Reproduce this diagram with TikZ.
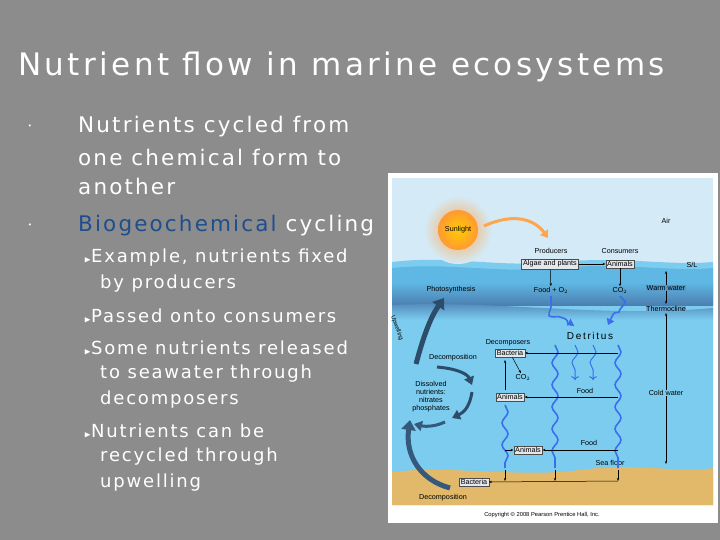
\documentclass[tikz,border=0pt]{standalone}
\usepackage{amssymb}
\usepackage{fontspec}
\setmainfont{DejaVu Sans}
\newfontfamily\lib{Liberation Sans}
\usetikzlibrary{arrows.meta,decorations.pathmorphing}
\definecolor{bg}{HTML}{8C8C8C}
\definecolor{sky}{HTML}{D4EAF6}
\definecolor{warm}{HTML}{5FB8E3}
\definecolor{thermo}{HTML}{4B7FB0}
\definecolor{cold}{HTML}{7CCCF0}
\definecolor{sand}{HTML}{E2B96A}
\definecolor{boxc}{HTML}{E4E8EC}
\definecolor{bio}{HTML}{1F4E8C}
\newcommand{\tri}{{\fontsize{9}{9}\selectfont$\blacktriangleright$}}
\tikzset{x=1pt,y=-1pt,
 txt/.style={text=white,font=\fontsize{21.5}{22}\selectfont\addfontfeatures{LetterSpace=10},anchor=west,inner sep=0},
 sub/.style={txt,font=\fontsize{18}{20}\selectfont\addfontfeatures{LetterSpace=10}},
 lab/.style={font=\lib\fontsize{7.2}{8}\selectfont,inner sep=0.5pt,align=center},
 bx/.style={lab,draw=black!70,fill=boxc,line width=0.4pt,inner sep=1.5pt},
 ln/.style={line width=0.5pt,-{Stealth[length=3pt]}},
 wv/.style={line width=1.6pt,color=warm!60!blue,decorate,decoration={snake,amplitude=3pt,segment length=22pt}}}
\begin{document}
\begin{tikzpicture}
\useasboundingbox (0,0) rectangle (720,540);
\fill[bg] (0,0) rectangle (720,540);
\node[text=white,font=\fontsize{31}{34}\selectfont\addfontfeatures{LetterSpace=11},anchor=west,inner sep=0] (title) at (18,67) {Nutrient flow in marine ecosystems};
\foreach \y/\n in {127/b1,226/b2}{\node[text=white,font=\fontsize{7}{8}\selectfont] (\n) at (30,\y) {•};}
\node[txt] (t1) at (78,127) {Nutrients cycled from};
\node[txt] (t2) at (78,157) {one chemical form to};
\node[txt] (t3) at (78,186) {another};
\node[txt] (t4) at (78,226) {\textcolor{bio}{Biogeochemical} cycling};
\node[sub] (s1) at (84,258) {\tri Example, nutrients fixed};
\node[sub] (s1b) at (100,284) {by producers};
\node[sub] (s2) at (84,316) {\tri Passed onto consumers};
\node[sub] (s3) at (84,348) {\tri Some nutrients released};
\node[sub] (s3b) at (100,374) {to seawater through};
\node[sub] (s3c) at (100,400) {decomposers};
\node[sub] (s4) at (84,431) {\tri Nutrients can be};
\node[sub] (s4b) at (100,457) {recycled through};
\node[sub] (s4c) at (100,483) {upwelling};
% picture
\fill[white] (388,173) rectangle (718,523);
\fill[sky] (392,178) rectangle (713,270);
\fill[cold] (392,262) .. controls (450,255) and (500,268) .. (560,262) .. controls (620,256) and (670,266) .. (713,262) -- (713,505) -- (392,505) -- cycle;
\fill[warm] (392,268) .. controls (450,262) and (500,274) .. (560,268) .. controls (620,262) and (670,272) .. (713,268) -- (713,305) -- (392,305) -- cycle;
\shade[top color=warm, bottom color=thermo] (392,282) rectangle (713,305);
\shade[top color=thermo, bottom color=cold] (392,305) .. controls (500,300) and (600,318) .. (713,308) -- (713,320) -- (392,320) -- cycle;
\fill[sand] (392,472) .. controls (450,465) and (520,478) .. (580,470) .. controls (640,462) and (680,474) .. (713,468) -- (713,505) -- (392,505) -- cycle;
\shade[inner color=orange!70, outer color=sky] (458,230) circle (34);
\shade[inner color=yellow!60!orange, outer color=orange!80] (458,230) circle (20);
\draw[line width=0.5pt,{Stealth[length=3pt]}-{Stealth[length=3pt]}] (666,271) -- (666,304);
\draw[line width=0.5pt,{Stealth[length=3pt]}-{Stealth[length=3pt]}] (666,313) -- (666,464);
\node[lab] (sun) at (458,230) {Sunlight};
\draw[orange!70,line width=3pt,-{Triangle[length=7pt,width=9pt]}] (484,226) .. controls (515,212) and (535,220) .. (548,238);
\node[lab] (air) at (666,221) {Air};
\node[lab] (sl) at (692,265) {S/L};
\node[lab] (prod) at (551,251) {Producers};
\node[lab] (cons) at (620,251) {Consumers};
\node[bx] (algae) at (550,264) {Algae and plants};
\node[bx] (anim1) at (620,264) {Animals};
\node[lab] (photo) at (451,290) {Photosynthesis};
\node[lab] (food1) at (551,290) {Food + O$_2$};
\node[lab] (co2a) at (620,290) {CO$_2$};
\node[lab,fill=thermo!55!warm] (warmw) at (666,288) {Warm water};
\node[lab,fill=thermo!40!cold] (therm) at (666,309) {Thermocline};
\node[lab,font=\lib\fontsize{10}{10}\selectfont] (det) at (590,336) {D\,e\,t\,r\,i\,t\,u\,s};
\node[lab] (decs) at (508,343) {Decomposers};
\node[bx] (bact1) at (510,353) {Bacteria};
\node[lab] (co2b) at (523,377) {CO$_2$};
\node[bx] (anim2) at (510,397) {Animals};
\node[lab] (food2) at (585,391) {Food};
\node[lab,fill=cold] (coldw) at (666,393) {Cold water};
\node[lab] (decomp1) at (453,358) {Decomposition};
\node[lab] (diss) at (431,397) {Dissolved\\nutrients:\\nitrates\\phosphates};
\node[bx] (anim3) at (528,450) {Animals};
\node[lab] (food3) at (589,443) {Food};
\node[lab] (seaf) at (610,463) {Sea floor};
\node[bx] (bact2) at (474,482) {Bacteria};
\node[lab] (decomp2) at (443,498) {Decomposition};
\node[lab,font=\lib\fontsize{5.8}{6}\selectfont] (copy) at (542,515) {Copyright \copyright\ 2008 Pearson Prentice Hall, Inc.};
\node[lab,rotate=-70,font=\lib\fontsize{6}{7}\selectfont] (upw) at (397,328) {Upwelling};
% connectors
\draw[ln] (algae) -- (anim1);
\draw[ln] (algae) -- (food1);
\draw[ln] (anim1) -- (co2a);
\draw[ln] (bact1) -- (co2b);
\draw[wv,-{Triangle[length=6pt,width=8pt]}] (551,296) .. controls (545,310) and (565,305) .. (567,325);
\draw[wv,-{Triangle[length=6pt,width=8pt]}] (620,296) .. controls (625,310) and (615,308) .. (608,325);
\draw[wv] (555,345) -- (555,468);
\draw[wv] (618,345) -- (618,468);
\draw[wv] (505,405) -- (505,468);
\draw[wv,line width=1pt,->] (575,345) -- (575,380);
\draw[wv,line width=1pt,->] (593,345) -- (593,380);
\draw[ln] (618,353) -- (bact1.east);
\draw[ln] (618,397) -- (anim2.east);
\draw[ln] (618,450) -- (anim3.east);
\draw[ln] (505,450) -- (anim3.west);
\draw[ln] (505,390) -- (505,360);
\draw[ln] (618,481) -- (bact2.east);
\foreach \x in {505,555,618}{\draw[ln] (\x,470) -- (\x,481);}
% nutrient cycle arrows
\draw[thermo!60!black,line width=5pt,-{Triangle[length=10pt,width=14pt]}] (416,364) .. controls (423,338) and (430,318) .. (444,298);
\draw[thermo!60!black,line width=3pt,-{Triangle[length=8pt,width=10pt]}] (437,367) .. controls (460,369) and (468,375) .. (472,385);
\draw[thermo!60!black,line width=3pt,-{Triangle[length=8pt,width=10pt]}] (472,392) .. controls (470,405) and (465,412) .. (452,418);
\draw[thermo!70!black,line width=3pt,-{Triangle[length=8pt,width=10pt]}] (445,422) .. controls (432,428) and (422,426) .. (414,424);
\draw[thermo!70!black,line width=5pt,-{Triangle[length=10pt,width=14pt]}] (450,488) .. controls (420,480) and (405,455) .. (410,420);
\end{tikzpicture}
\end{document}
